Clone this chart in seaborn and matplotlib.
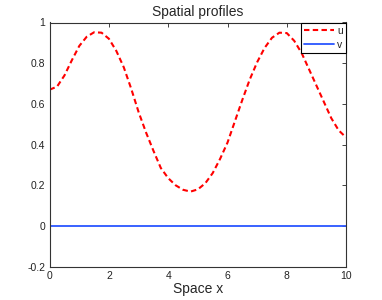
import numpy as np
import pandas as pd
import matplotlib
matplotlib.use("Agg")
import matplotlib.pyplot as plt
import matplotlib.ticker as mticker
import seaborn as sns

# values
x = [0.0, 0.25, 0.5, 0.75, 1.0, 1.25, 1.5, 1.75, 2.0, 2.25, 2.5, 2.75,
     3.0, 3.25, 3.5, 3.75, 4.0, 4.25, 4.5, 4.75, 5.0, 5.25, 5.5, 5.75,
     6.0, 6.25, 6.5, 6.75, 7.0, 7.25, 7.5, 7.75, 8.0, 8.25, 8.5, 8.75,
     9.0, 9.25, 9.5, 9.75, 10.0]
u = [0.67, 0.685, 0.74, 0.815, 0.885, 0.93, 0.952, 0.95, 0.92, 0.86, 0.78, 0.675,
     0.56, 0.46, 0.37, 0.285, 0.235, 0.20, 0.178, 0.169, 0.18, 0.21, 0.26, 0.33,
     0.41, 0.515, 0.62, 0.72, 0.805, 0.875, 0.925, 0.95, 0.948, 0.91, 0.85, 0.77,
     0.69, 0.61, 0.53, 0.47, 0.435]
v = [0.0] * len(x)

df = pd.DataFrame({"x": x, "u": u, "v": v})

sns.set_style("white")
plt.rcParams['font.family'] = ['Liberation Sans', 'DejaVu Sans']

fig = plt.figure(figsize=(3.82, 3.0), dpi=100)
ax = fig.add_axes([0.13, 0.111, 0.776, 0.814])

sns.lineplot(data=df, x="x", y="u", ax=ax, color="#ff0000", lw=1.5,
             label="u", dashes=False, linestyle=(0, (2.6, 1.6)))
sns.lineplot(data=df, x="x", y="v", ax=ax, color="#2a55ff", lw=1.3, label="v")

ax.set_xlim(0, 10)
ax.set_ylim(-0.2, 1)
ax.set_xticks(np.arange(0, 11, 2))
ax.set_yticks(np.arange(-0.2, 1.01, 0.2))
ax.yaxis.set_major_formatter(mticker.FuncFormatter(lambda v_, p: "%g" % round(v_, 2)))
ax.tick_params(direction="in", length=3, width=0.6, top=True, right=True,
               labelsize=7.5, colors="#222222", pad=3)
for s in ax.spines.values():
    s.set_color("#333333")
    s.set_linewidth(0.8)

ax.set_xlabel("Space x", fontsize=10, labelpad=1)
ax.set_ylabel("")
ax.set_title("Spatial profiles", fontsize=10, pad=5)

leg = ax.legend(loc="upper right", borderaxespad=0, fontsize=7.5, fancybox=False,
                framealpha=1, edgecolor="black", handlelength=2.9,
                handletextpad=0.3, borderpad=0.3, labelspacing=0.4)
leg.get_frame().set_linewidth(0.8)

fig.savefig("out.png", dpi=100)
